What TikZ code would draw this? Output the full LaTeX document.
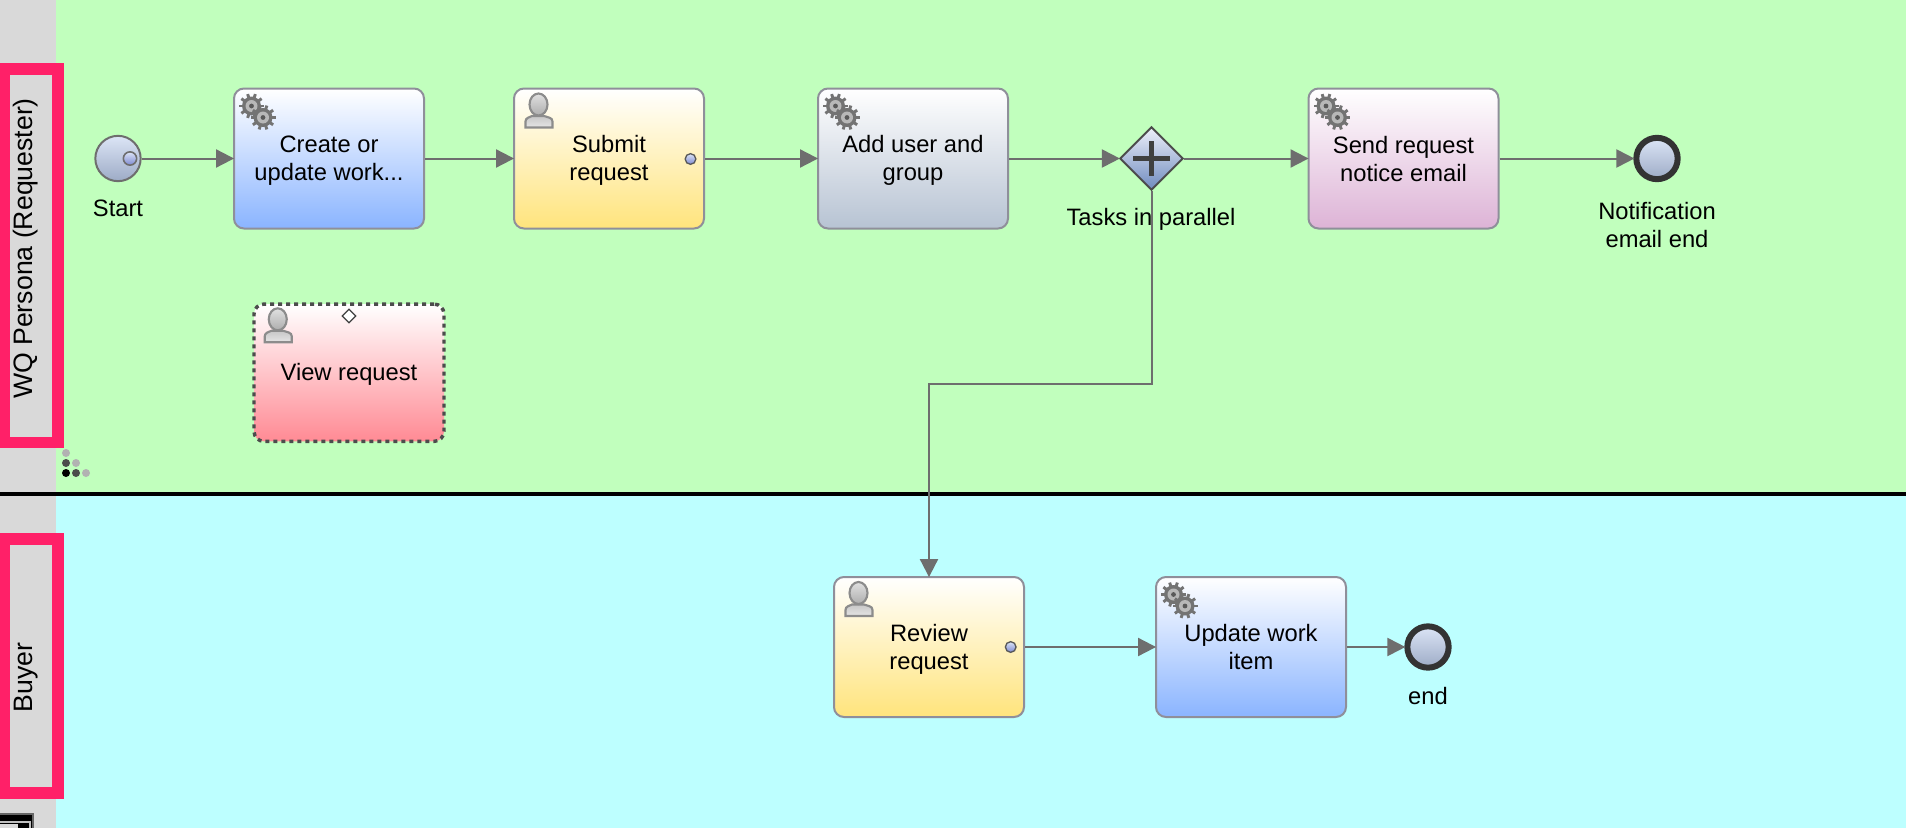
\documentclass[tikz,border=0pt]{standalone}
\usepackage{fontspec}
\setmainfont{Liberation Sans}
\usetikzlibrary{arrows.meta,shapes.geometric}
\definecolor{lanegreen}{HTML}{C1FFBD}
\definecolor{lanecyan}{HTML}{BDFFFF}
\definecolor{headgray}{HTML}{D9D9D9}
\definecolor{markpink}{HTML}{FF2068}
\definecolor{flowgray}{HTML}{6E6E6E}
\definecolor{taskedge}{HTML}{8F8F9A}
\definecolor{bluebot}{HTML}{8AB4FF}
\definecolor{yellowbot}{HTML}{FFE47C}
\definecolor{slatebot}{HTML}{B7C3D3}
\definecolor{plumbot}{HTML}{DDB3D6}
\definecolor{redbot}{HTML}{FF8A94}
\definecolor{eventtop}{HTML}{DCE5F6}
\definecolor{eventbot}{HTML}{9DABC6}
\definecolor{gatetop}{HTML}{EEF0FA}
\definecolor{gatebot}{HTML}{6F8BBF}
\newcommand{\textprop}{\rule[-3pt]{0pt}{18pt}}
\newcommand{\tallprop}{\rule[-3pt]{0pt}{40.4pt}}
\tikzset{
	tasktext/.style={font=\fontsize{17.8pt}{21pt}\selectfont,align=center,
		execute at begin node=\textprop},
	twolines/.style={execute at begin node=\tallprop},
	task/.style={tasktext,draw=taskedge,line width=1.5pt,rounded corners=7.5pt,
		minimum width=142.5pt,minimum height=105pt,inner sep=0pt,top color=white},
	flow/.style={draw=flowgray,line width=1.5pt,shorten >=-0.8pt,-{Triangle[length=13.5pt,width=13.5pt]}},
	eventlabel/.style={tasktext},
	startevent/.style={circle,draw=flowgray,line width=1.5pt,minimum size=34pt,inner sep=0pt,
		top color=eventtop,bottom color=eventbot},
	endevent/.style={circle,draw=black!80,line width=4.5pt,minimum size=31pt,inner sep=0pt,
		top color=eventtop,bottom color=eventbot},
	portdot/.style={circle,draw=black!65,line width=1pt,minimum size=8pt,inner sep=0pt,
		top color=eventtop,bottom color=eventbot!80!blue},
	lanelabel/.style={rotate=90,font=\fontsize{20pt}{22pt}\selectfont},
	pics/gearicon/.style={code={
		\foreach \gx/\gy in {18.5/18.5,30/30}{
			\foreach \ga in {0,36,...,324}
				\draw[black!55,line width=2.2pt] (\gx,\gy) ++(\ga:8) -- ++(\ga:4.5);
			\fill[black!55] (\gx,\gy) circle (9.5);
			\fill[black!28] (\gx,\gy) circle (6);
			\fill[black!65] (\gx,\gy) circle (2.4);
		}
	}},
	pics/personicon/.style={code={
		\draw[black!45,line width=1.6pt,top color=black!22,bottom color=black!10]
			(12.5,40) -- (12.5,34) to[out=90,in=200] (19,28.5) -- (31,28.5) to[out=-20,in=90] (39.5,34) -- (39.5,40) -- cycle;
		\draw[black!45,line width=1.6pt,top color=black!12,bottom color=black!32]
			(25.5,17) ellipse (9 and 11);
	}},
}
\begin{document}
\begin{tikzpicture}[x=0.75pt,y=-0.75pt]
	\useasboundingbox (0,0) rectangle (1906,828);
	% lanes
	\fill[headgray] (0,0) rectangle (56,828);
	\fill[lanegreen] (56,0) rectangle (1906,492);
	\fill[lanecyan] (56,496) rectangle (1906,828);
	\fill[black] (0,492) rectangle (1906,496);
	% lane headers
	\fill[markpink] (0,63) rectangle (64,448);
	\fill[headgray] (10,75) rectangle (52,437);
	\fill[markpink] (0,533) rectangle (64,799);
	\fill[headgray] (10,545) rectangle (52,787);
	\node[lanelabel](persona) at (26,248.5){WQ Persona (Requester)};
	\node[lanelabel](buyer) at (26,677.5){Buyer};
	% resize dots and corner mark
	\foreach \dx/\dy/\dc in {66/453/black!30,66/463/black!70,76/463/black!30,66/473/black,76/473/black!70,86/473/black!30}
		\fill[\dc] (\dx,\dy) circle (4);
	\fill[black!60] (0,813) rectangle (34,828);
	\fill[black] (0,815) rectangle (32,828);
	\fill[black!25] (0,821) rectangle (31,828);
	\fill[black] (0,823) rectangle (29,828);
	\fill[black!15] (0,824) rectangle (18,828);
	% events
	\node[startevent](start) at (118,158.5){};
	\node[portdot,minimum size=10pt,draw=flowgray,line width=1.2pt](startdot) at (130,158.5){};
	\node[endevent](mailend) at (1657,158.5){};
	\node[endevent](buyerend) at (1428,647){};
	\node[eventlabel](startlabel) at (118,208.5){Start};
	\node[eventlabel,twolines](mailendlabel) at (1657,225){Notification\\email end};
	\node[eventlabel](buyerendlabel) at (1428,696.5){end};
	\node[eventlabel](parallellabel) at (1151,217.5){Tasks in parallel};
	% tasks
	\node[task,twolines,bottom color=bluebot](create) at (329,158.5){Create or\\update work...};
	\node[task,twolines,bottom color=yellowbot](submit) at (609,158.5){Submit\\request};
	\node[task,twolines,bottom color=slatebot](adduser) at (913,158.5){Add user and\\group};
	\node[task,twolines,bottom color=plumbot](sendmail) at (1403.5,158.5){Send request\\notice email};
	\node[task,bottom color=redbot,draw=black!70,dash pattern=on 3pt off 3pt,line width=2.6pt,minimum height=103pt](viewreq) at (349,372.7){View request};
	\node[task,twolines,bottom color=yellowbot](review) at (929,647){Review\\request};
	\node[task,twolines,bottom color=bluebot](update) at (1251,647){Update work\\item};
	% gateway
	\node[diamond,draw=black!70,line width=1.5pt,minimum size=47.5pt,inner sep=0pt,
		top color=gatetop,bottom color=gatebot](gateway) at (1151.5,158.5){};
	\draw[black!75,line width=3.8pt] (1133,158.5) -- (1170,158.5);
	\draw[black!75,line width=3.8pt] (1151.5,141) -- (1151.5,176);
	% icons
	\pic at (create.north west) {gearicon};
	\pic at (adduser.north west) {gearicon};
	\pic at (sendmail.north west) {gearicon};
	\pic at (update.north west) {gearicon};
	\pic at (submit.north west) {personicon};
	\pic at (review.north west) {personicon};
	\pic at (viewreq.north west) {personicon};
	\node[portdot](submitdot) at (690.5,159){};
	\node[portdot](reviewdot) at (1010.7,647){};
	\node[diamond,draw=black!75,line width=1pt,fill=white,minimum size=10.5pt,inner sep=0pt](viewmark) at (349,316){};
	% connectors
	\coordinate(bendtop) at (1151.5,384);
	\coordinate(bendlow) at (929,384);
	\draw[flow](start) -- (create);
	\draw[flow](create) -- (submit);
	\draw[flow](submit) -- (adduser);
	\draw[flow](adduser) -- (gateway);
	\draw[flow](gateway) -- (sendmail);
	\draw[flow](sendmail) -- (mailend);
	\draw[flow](gateway.south) -- (bendtop) -- (bendlow) -- (review.north);
	\draw[flow](review) -- (update);
	\draw[flow](update) -- (buyerend);
\end{tikzpicture}
\end{document}
